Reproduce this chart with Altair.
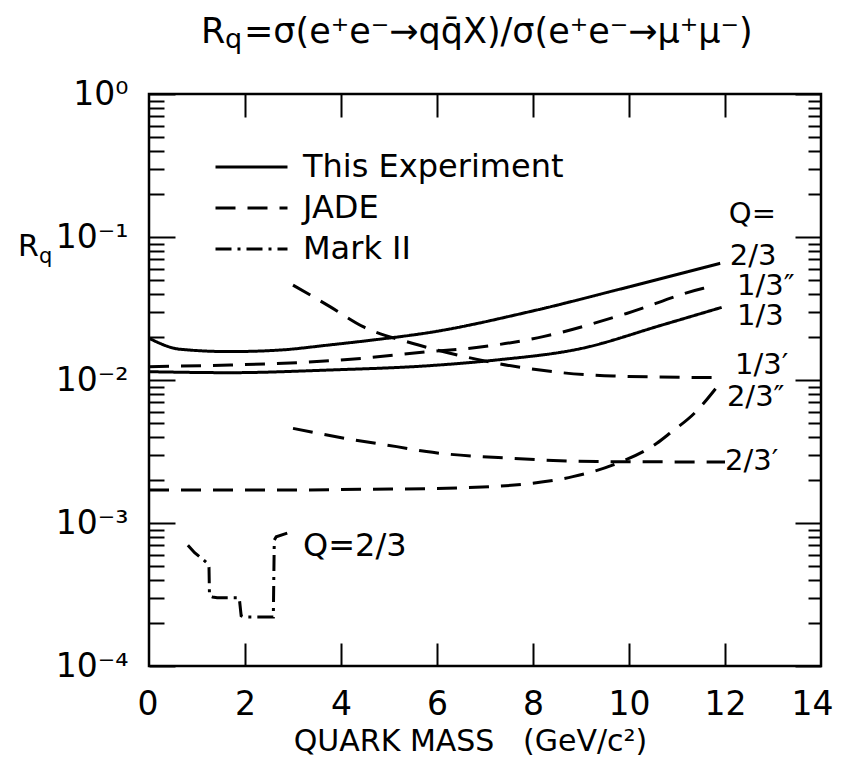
import altair as alt
import pandas as pd

FONT = "DejaVu Sans"
FW = "normal"

# ---------------- data ----------------
series_names = ["This Experiment", "JADE", "Mark II"]

# This Experiment (solid)
exp_23_m = [0.0, 0.65, 1.69, 2.73, 3.77, 4.81, 5.85, 7.94, 10.02, 11.9]
exp_23_R = [0.0196, 0.0164, 0.0158, 0.0162, 0.0176, 0.0193, 0.0215, 0.0301, 0.0450, 0.0655]
exp_13_m = [0.0, 1.69, 3.77, 5.85, 7.24, 9.0, 10.7, 11.93]
exp_13_R = [0.01143, 0.01125, 0.01175, 0.0126, 0.0138, 0.0166, 0.0243, 0.0322]

# JADE (dashed)
jade_13pp_m = [0.0, 1.69, 3.08, 4.46, 5.85, 6.55, 8.21, 9.95, 11.55, 11.8]
jade_13pp_R = [0.0124, 0.01274, 0.0132, 0.0142, 0.0158, 0.0165, 0.0201, 0.0292, 0.0438, 0.0457]
jade_13p_m = [3.0, 3.77, 4.46, 5.5, 6.27, 7.73, 8.6, 9.67, 11.9]
jade_13p_R = [0.0461, 0.0326, 0.0236, 0.0180, 0.0154, 0.01227, 0.01125, 0.01067, 0.01038]
jade_23p_m = [3.0, 4.12, 5.16, 5.78, 7.59, 9.33, 12.0]
jade_23p_R = [0.00459, 0.00389, 0.00342, 0.00316, 0.00283, 0.00269, 0.00267]
jade_23pp_m = [0.0, 2.73, 4.46, 6.2, 7.94, 8.83, 9.67, 10.58, 10.85, 11.4, 11.85]
jade_23pp_R = [0.0017, 0.0017, 0.00172, 0.00175, 0.00189, 0.00211, 0.00255, 0.00361, 0.00424, 0.00603, 0.0091]

# Mark II (dash-dot)
mark2_m = [0.81, 0.95, 1.14, 1.22, 1.25, 1.26, 1.32, 1.42, 1.88, 1.92, 1.98, 2.59, 2.61, 2.65, 2.88]
mark2_R = [7.0e-4, 6.2e-4, 5.5e-4, 5.2e-4, 4.9e-4, 3.1e-4, 3.04e-4, 3.0e-4, 3.0e-4, 2.25e-4,
           2.2e-4, 2.2e-4, 7.6e-4, 8.0e-4, 8.5e-4]

# curve labels (placed in data units)
lab_text = ["Q=", "2/3", "1/3\u2033", "1/3", "1/3\u2032", "2/3\u2033", "2/3\u2032"]
lab_m = [12.08, 12.10, 12.25, 12.25, 12.21, 12.04, 12.0]
lab_R = [0.1448, 0.0736, 0.0454, 0.0280, 0.01273, 0.0076, 0.00271]
mk_text = ["Q=2/3"]
mk_m = [3.21]
mk_R = [6.9e-4]

# axes
x_label_values = [0, 2, 4, 6, 8, 10, 12, 14]
x_tick_values = [2, 4, 6, 8, 10, 12]
y_decades = [1e-4, 1e-3, 1e-2, 1e-1, 1.0]
y_decade_labels = ["10\u207b\u2074", "10\u207b\u00b3", "10\u207b\u00b2", "10\u207b\u00b9", "10\u2070"]
y_minor = [k * d for d in [1e-4, 1e-3, 1e-2, 1e-1] for k in range(2, 10)]

title_R = ["R"]
title_q = ["q"]
title_rest = ["=\u03c3(e\u207ae\u207b\u2192qq\u0304X)/\u03c3(e\u207ae\u207b\u2192\u03bc\u207a\u03bc\u207b)"]
x_title = "QUARK MASS\u00a0\u00a0\u00a0(GeV/c\u00b2)"

# ---------------- tables ----------------
def curve_rows(series, curve, ms, rs):
    return [dict(series=series, curve=curve, m=m, R=r, idx=i) for i, (m, r) in enumerate(zip(ms, rs))]

df_exp = pd.DataFrame(curve_rows("This Experiment", "e23", exp_23_m, exp_23_R)
                      + curve_rows("This Experiment", "e13", exp_13_m, exp_13_R))
df_jade = pd.DataFrame(curve_rows("JADE", "j13pp", jade_13pp_m, jade_13pp_R)
                       + curve_rows("JADE", "j13p", jade_13p_m, jade_13p_R)
                       + curve_rows("JADE", "j23p", jade_23p_m, jade_23p_R)
                       + curve_rows("JADE", "j23pp", jade_23pp_m, jade_23pp_R))
df_mk = pd.DataFrame(curve_rows("Mark II", "mk", mark2_m, mark2_R))
df_lab = pd.DataFrame({"t": lab_text, "m": lab_m, "R": lab_R})
df_mklab = pd.DataFrame({"t": mk_text, "m": mk_m, "R": mk_R})

W, H = 672, 572

xs = alt.Scale(domain=[0, 14], nice=False, zero=False)
ys = alt.Scale(type="log", domain=[1e-4, 1.0], nice=False)
dash = alt.Scale(domain=series_names, range=[[1, 0], [20, 12], [16, 6, 3, 6]])

label_expr = ("datum.value > 0.5 ? '%s' : datum.value > 0.05 ? '%s' : datum.value > 0.005 ? '%s' : "
              "datum.value > 0.0005 ? '%s' : '%s'") % tuple(reversed(y_decade_labels))

ax_x_labels = alt.Axis(values=x_label_values, ticks=False, tickSize=0, domain=False, grid=False,
                       labelFont=FONT, labelFontSize=33, labelFontWeight=FW, labelColor="black",
                       labelPadding=38, labelBaseline="middle", labelFlush=True,
                       labelFlushOffset=12, labelOverlap=False, format="d",
                       title=x_title, titleFont=FONT, titleFontSize=30, titleFontWeight=FW,
                       titleColor="black", titleX=321, titleY=84, titleBaseline="alphabetic",
                       titleAlign="center")
ax_y_labels = alt.Axis(values=y_decades, ticks=False, tickSize=0, domain=False, grid=False,
                       labelExpr=label_expr, labelFont=FONT, labelFontSize=33, labelFontWeight=FW,
                       labelColor="black", labelPadding=21, labelAlign="right",
                       labelBaseline="middle", labelFlush=False, labelOverlap=False, title="")

def tick_axis(orient, values, size):
    off = -H if orient in ("top", "bottom") else -W
    return alt.Axis(orient=orient, offset=off, values=values, labels=False, domain=False,
                    grid=False, tickSize=size, tickWidth=2, tickColor="black", title="")

leg = alt.Legend(orient="none", legendX=86.5, legendY=57, title=None,
                 symbolType="M-4,0H4", symbolSize=324, symbolStrokeWidth=3,
                 symbolStrokeColor="black", labelFont=FONT, labelFontSize=32,
                 labelFontWeight=FW, labelLimit=500,
                 labelColor="black", labelOffset=35.5, rowPadding=9, padding=0)

A = alt.Chart(df_exp).mark_line(color="black", strokeWidth=3, interpolate="monotone").encode(
    x=alt.X("m:Q", scale=xs, axis=ax_x_labels),
    y=alt.Y("R:Q", scale=ys, axis=ax_y_labels),
    strokeDash=alt.StrokeDash("series:N", scale=dash, legend=leg),
    detail="curve:N",
    order="idx:Q",
)
B = alt.Chart(df_jade).mark_line(color="black", strokeWidth=3, interpolate="monotone").encode(
    x=alt.X("m:Q", scale=xs, axis=tick_axis("top", x_tick_values, 23)),
    y=alt.Y("R:Q", scale=ys, axis=tick_axis("right", y_decades, 26)),
    strokeDash=alt.StrokeDash("series:N", scale=dash, legend=None),
    detail="curve:N",
    order="idx:Q",
)
C = alt.Chart(df_mk).mark_line(color="black", strokeWidth=3).encode(
    x=alt.X("m:Q", scale=xs, axis=tick_axis("bottom", x_tick_values, 23)),
    y=alt.Y("R:Q", scale=ys, axis=tick_axis("right", y_minor, 15)),
    strokeDash=alt.StrokeDash("series:N", scale=dash, legend=None),
    detail="curve:N",
    order="idx:Q",
)
D = alt.Chart(df_lab).mark_text(align="left", baseline="middle", font=FONT, fontSize=29,
                                fontWeight=FW, color="black").encode(
    x=alt.X("m:Q", scale=xs, axis=None),
    y=alt.Y("R:Q", scale=ys, axis=tick_axis("left", y_decades, 26)),
    text="t:N",
)
E = alt.Chart(df_mklab).mark_text(align="left", baseline="middle", font=FONT, fontSize=32,
                                  fontWeight=FW, color="black").encode(
    x=alt.X("m:Q", scale=xs, axis=None),
    y=alt.Y("R:Q", scale=ys, axis=tick_axis("left", y_minor, 13)),
    text="t:N",
)

def txt(texts, x, y, size, baseline="alphabetic"):
    return alt.Chart(pd.DataFrame({"t": texts})).mark_text(
        align="left", baseline=baseline, font=FONT, fontSize=size, fontWeight=FW, color="black"
    ).encode(x=alt.value(x), y=alt.value(y), text="t:N")

T1 = txt(title_R, 52, -51, 35)
T2 = txt(title_q, 76, -46, 27)
T3 = txt(title_rest, 95, -51, 35)
Y1 = txt(title_R, -131, 162, 30)
Y2 = txt(title_q, -110, 169, 21)

chart = (
    alt.layer(A, B, C, D, E, T1, T2, T3, Y1, Y2)
    .resolve_axis(x="independent", y="independent")
    .properties(width=W, height=H, autosize=alt.AutoSizeParams(type="none"),
                padding={"left": 141, "top": 86, "right": 13, "bottom": 90},
                background="white")
    .configure_view(stroke="black", strokeWidth=2.5)
    .configure_axis(grid=False)
)

chart.save("out.html", embed_options={"renderer": "svg", "actions": False})
